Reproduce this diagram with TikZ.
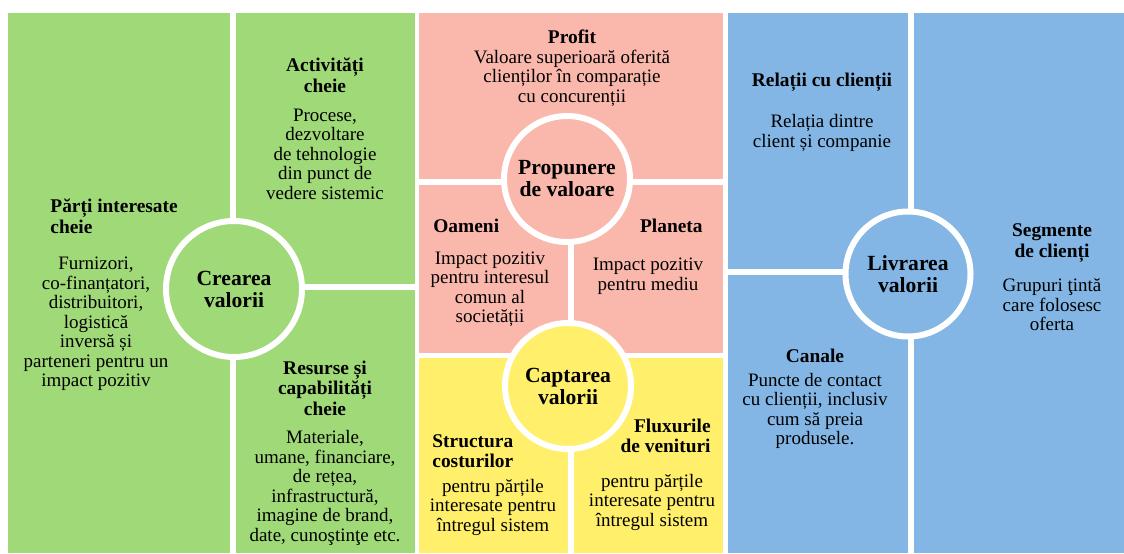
\documentclass[tikz,border=0pt]{standalone}
\usepackage{fontspec}
\setmainfont{Liberation Serif}
\usepackage{xcolor}
\usepackage{tikz}

\definecolor{creaGreen}{RGB}{160,217,120}
\definecolor{propPink}{RGB}{250,183,171}
\definecolor{captYellow}{RGB}{255,239,107}
\definecolor{livrBlue}{RGB}{131,182,228}

\begin{document}
\begin{tikzpicture}[x=0.5pt, y=-0.5pt,
    gap/.style={white, line width=3pt},
    hub/.style={circle, draw=white, line width=3pt, inner sep=0pt, align=center,
        font=\fontsize{10.8}{11}\selectfont\bfseries},
    head/.style={inner sep=0pt, align=center, font=\fontsize{9.7}{10.25}\selectfont\bfseries},
    body/.style={inner sep=0pt, align=center, font=\fontsize{9.5}{9.75}\selectfont}]

        \fill[white] (0,0) rectangle (1124,553);
        \useasboundingbox (0,0) rectangle (1124,553);

        % Coloured panels
        \fill[creaGreen] (8,13) rectangle (415,553);
        \fill[propPink] (419,13) rectangle (723,353);
        \fill[captYellow] (419,358) rectangle (723,553);
        \fill[livrBlue] (728,13) rectangle (1124,553);

        % White dividers
        \foreach \x/\ya/\yb in {233/13/553, 570.5/182/553, 911/13/553}
            \draw[gap] (\x,\ya) -- (\x,\yb);
        \foreach \y/\xa/\xb in {287/233/415, 182/419/723, 272/728/911}
            \draw[gap] (\xa,\y) -- (\xb,\y);

        % Hubs
        \node[hub, fill=creaGreen, minimum size=68pt] (crea) at (234,289) {Crearea\\valorii};
        \node[hub, fill=propPink, minimum size=63pt] (prop) at (567,179) {Propunere\\de valoare};
        \node[hub, fill=captYellow, minimum size=63pt] (capt) at (568,386) {Captarea\\valorii};
        \node[hub, fill=livrBlue, minimum size=62.5pt] (livr) at (908,274) {Livrarea\\valorii};

        % Crearea valorii
        \node[head, anchor=west, align=left] (pikHead) at (50,216) {Părți interesate\\cheie};
        \node[body] (pikText) at (96,324) {Furnizori,\\co-finanțatori,\\distribuitori,\\logistică\\inversă și\\parteneri pentru un\\impact pozitiv};
        \node[head] (kaHead) at (325,75) {Activități\\cheie};
        \node[body] (kaText) at (325,154) {Procese,\\dezvoltare\\de tehnologie\\din punct de\\vedere sistemic};
        \node[head] (krHead) at (325,388) {Resurse și\\capabilități\\cheie};
        \node[body] (krText) at (325,488) {Materiale,\\umane, financiare,\\de rețea,\\infrastructură,\\imagine de brand,\\date, cunoştinţe etc.};

        % Propunere de valoare
        \node[head] (profHead) at (572,37) {Profit};
        \node[body] (profText) at (572,78) {Valoare superioară oferită\\clienților în comparație\\cu concurenții};
        \node[head, anchor=west] (oamHead) at (433,226) {Oameni};
        \node[body] (oamText) at (490,289) {Impact pozitiv\\pentru interesul\\comun al\\societății};
        \node[head, anchor=east] (plaHead) at (703,226) {Planeta};
        \node[body] (plaText) at (648,276) {Impact pozitiv\\pentru mediu};

        % Captarea valorii
        \node[head, anchor=west, align=left] (costHead) at (432,451) {Structura\\costurilor};
        \node[body] (costText) at (493,507) {pentru părțile\\interesate pentru\\întregul sistem};
        \node[head, anchor=east, align=right] (venHead) at (711,436) {Fluxurile\\de venituri};
        \node[body] (venText) at (652,502) {pentru părțile\\interesate pentru\\întregul sistem};

        % Livrarea valorii
        \node[head] (relHead) at (822,82) {Relații cu clienții};
        \node[body] (relText) at (822,133) {Relația dintre\\client și companie};
        \node[head] (segHead) at (1052,243) {Segmente\\de clienți};
        \node[body] (segText) at (1052,305) {Grupuri ţintă\\care folosesc\\oferta};
        \node[head] (canHead) at (815,356) {Canale};
        \node[body] (canText) at (815,411) {Puncte de contact\\cu clienții, inclusiv\\cum să preia\\produsele.};

    \end{tikzpicture}
\end{document}
